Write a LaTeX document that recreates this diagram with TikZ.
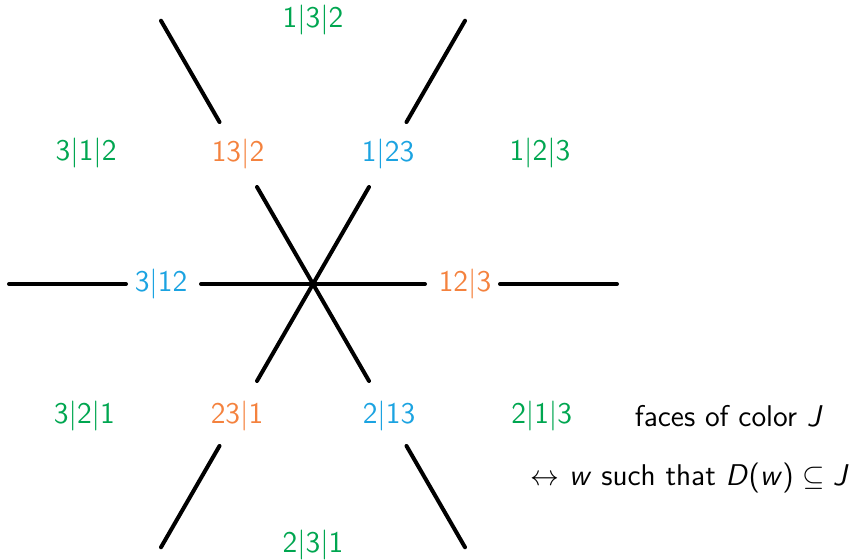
\documentclass[tikz,border=0pt]{standalone}
\usepackage{fontspec}
\usetikzlibrary{calc}
\definecolor{fgreen}{RGB}{0,166,80}
\definecolor{forange}{RGB}{244,130,62}
\definecolor{fblue}{RGB}{27,163,225}
\begin{document}
\begin{tikzpicture}[x=0.5pt,y=-0.5pt,
  lab/.style={font=\fontsize{15}{18}\selectfont\sffamily, inner sep=0pt},
  seg/.style={line width=2pt, line cap=round}]
\useasboundingbox (0,0) rectangle (854,560);
\coordinate (c) at (313,284);
% line end points
\foreach \a in {0,60,120,180,240,300}{
  \coordinate (in\a) at ($(c)+(\a:112)$);
  \coordinate (os\a) at ($(c)+(\a:187)$);
  \coordinate (oe\a) at ($(c)+(\a:304)$);
}
% inner lines through the centre
\draw[seg] (in0) -- (c) -- (in180);
\draw[seg] (in60) -- (c) -- (in240);
\draw[seg] (in120) -- (c) -- (in300);
% outer segments
\foreach \a in {0,60,120,180,240,300}{
  \draw[seg] (os\a) -- (oe\a);
}
% edge labels
\node[lab, text=forange] (e0)   at ($(c)+(0:152)$)   {12|3};
\node[lab, text=fblue]   (e60)  at ($(c)+(60:152)$)  {2|13};
\node[lab, text=forange] (e120) at ($(c)+(120:152)$) {23|1};
\node[lab, text=fblue]   (e180) at ($(c)+(180:152)$) {3|12};
\node[lab, text=forange] (e240) at ($(c)+(240:150)$) {13|2};
\node[lab, text=fblue]   (e300) at ($(c)+(300:150)$) {1|23};
% chamber labels
\node[lab, text=fgreen] (f30)  at ($(c)+(30:264)$)  {2|1|3};
\node[lab, text=fgreen] (f90)  at ($(c)+(90:261)$)  {2|3|1};
\node[lab, text=fgreen] (f150) at ($(c)+(150:264)$) {3|2|1};
\node[lab, text=fgreen] (f210) at ($(c)+(210:262)$) {3|1|2};
\node[lab, text=fgreen] (f270) at ($(c)+(270:264)$) {1|3|2};
\node[lab, text=fgreen] (f330) at ($(c)+(330:262)$) {1|2|3};
% caption
\node[lab, anchor=east] (t1) at (823,416) {faces of color \textit{J}};
\node[lab, anchor=east] (t2) at (849,478) {$\leftrightarrow$ \textit{w} such that \textit{D}(\textit{w})\;$\subseteq$\;\textit{J}};
\end{tikzpicture}
\end{document}
